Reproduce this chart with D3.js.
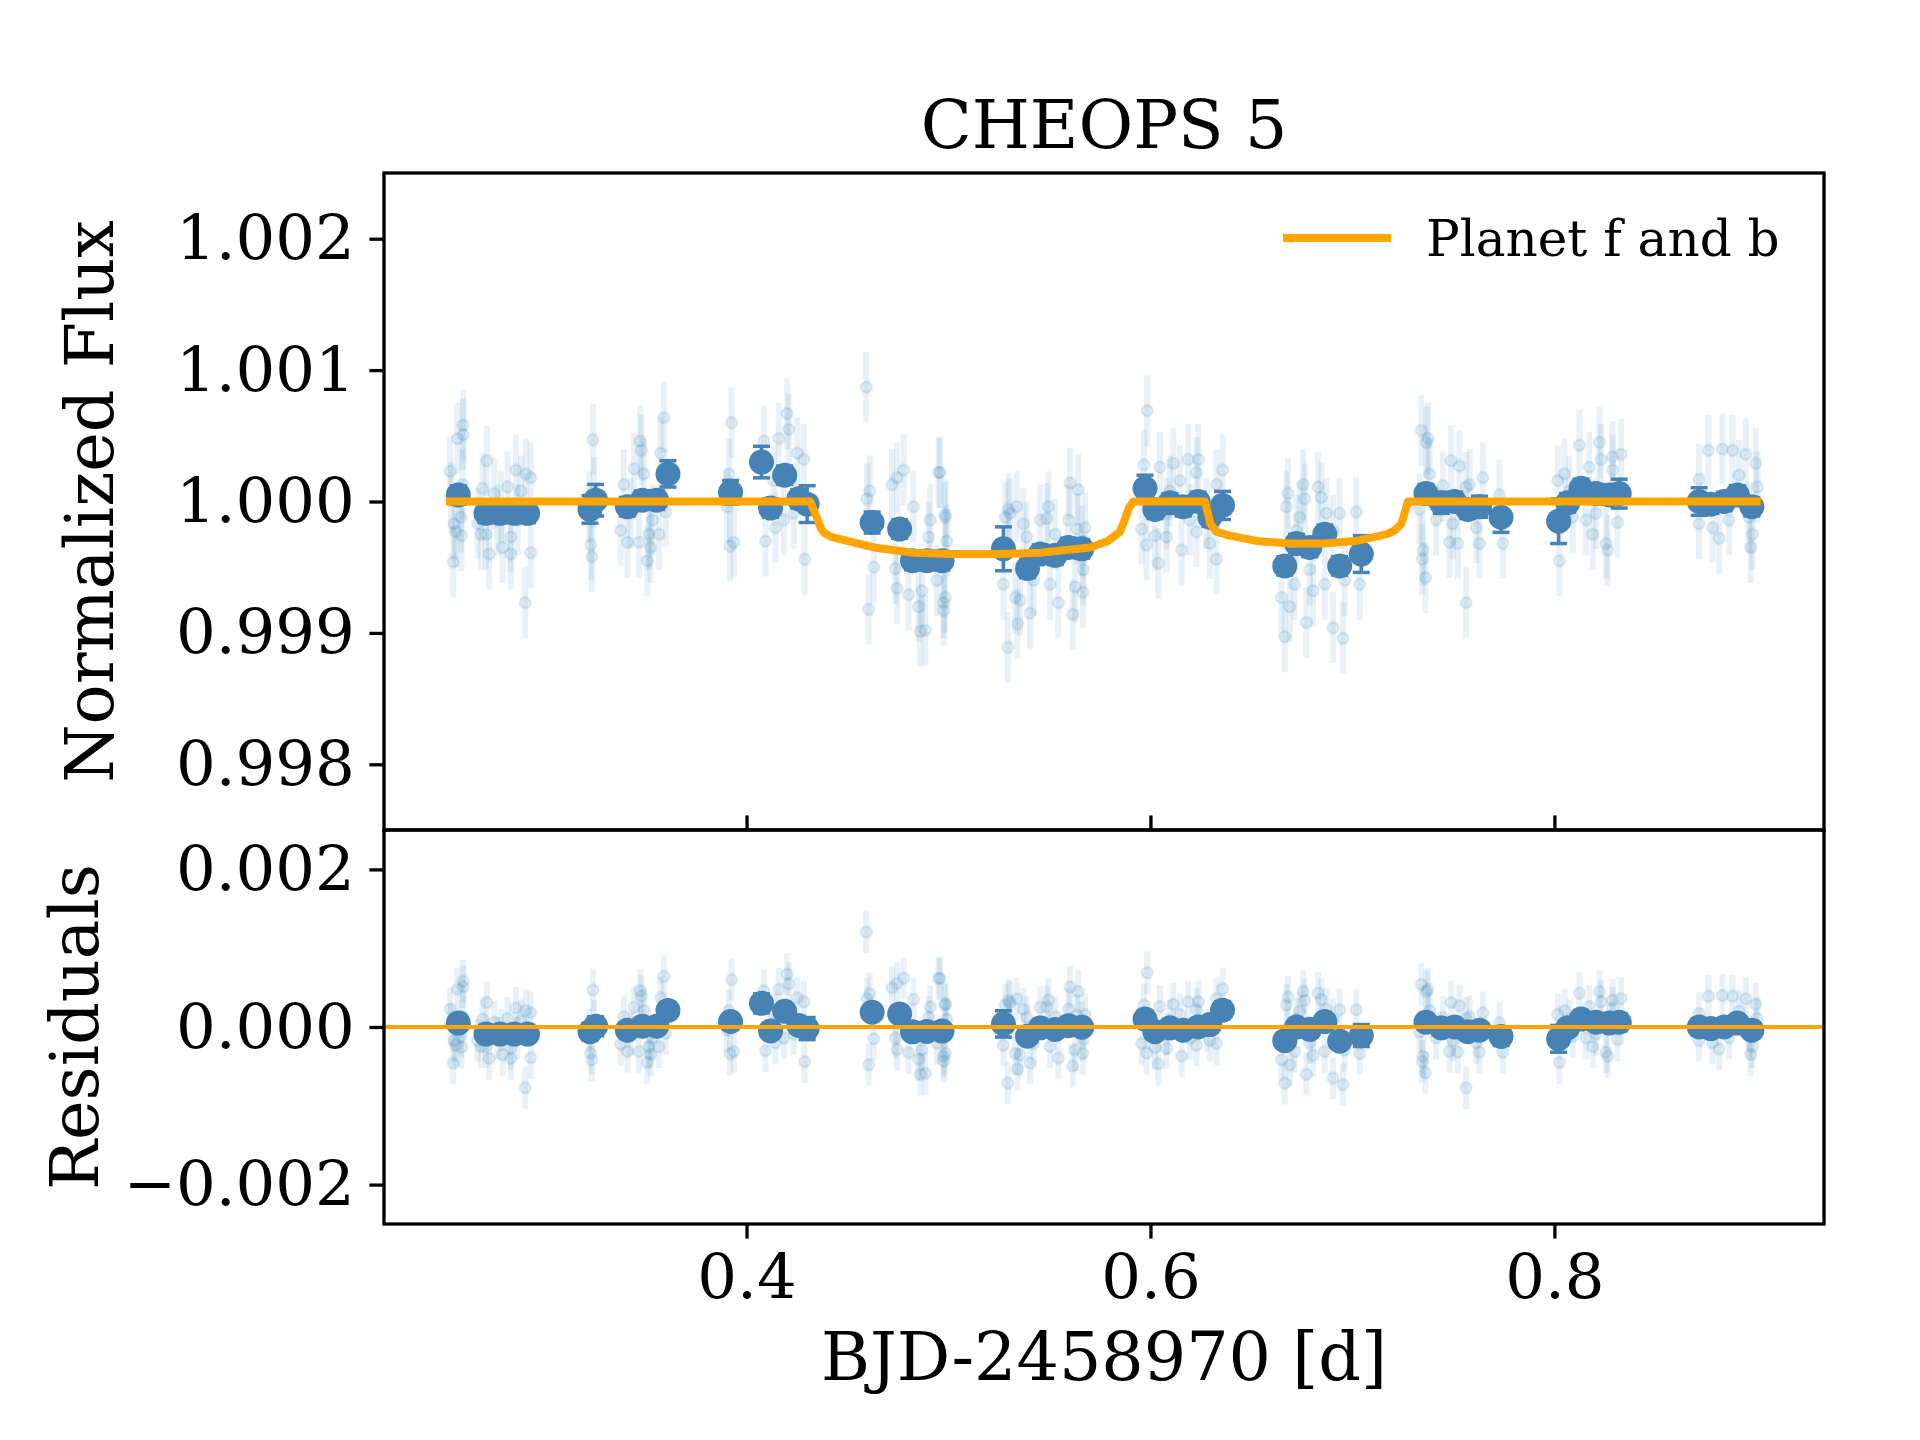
<!DOCTYPE html>
<html>
<head>
<meta charset="utf-8">
<script src="https://cdn.jsdelivr.net/npm/d3@7"></script>
<style>
  body { margin: 0; background: #fff; }
  text { font-family: "DejaVu Serif", serif; fill: #000; }
</style>
</head>
<body>
<div id="chart"></div>
<script>
// Binned points (large markers)
const binTime = [0.2573, 0.2710, 0.2780, 0.2850, 0.2916, 0.3225, 0.3253, 0.3410, 0.3484, 0.3555,
  0.3611, 0.3921, 0.4074, 0.4119, 0.4189, 0.4259, 0.4300, 0.4622, 0.4758, 0.4822,
  0.4893, 0.4968, 0.5272, 0.5391, 0.5454, 0.5528, 0.5594, 0.5660, 0.5973, 0.6022,
  0.6096, 0.6162, 0.6236, 0.6294, 0.6357, 0.6665, 0.6723, 0.6789, 0.6863, 0.6937,
  0.7044, 0.7364, 0.7440, 0.7506, 0.7571, 0.7629, 0.7736, 0.8021, 0.8066, 0.8132,
  0.8206, 0.8272, 0.8321, 0.8717, 0.8775, 0.8841, 0.8906, 0.8978];
const binFlux = [1.00005, 0.99991, 0.99991, 0.99991, 0.99991, 0.99994, 1.00001, 0.99996, 1.00001, 1.00001,
  1.00021, 1.00007, 1.00030, 0.99995, 1.00020, 1.00002, 0.99998, 0.99984, 0.99979, 0.99955,
  0.99955, 0.99955, 0.99964, 0.99949, 0.99960, 0.99959, 0.99965, 0.99964, 1.00010, 0.99994,
  0.99999, 0.99996, 1.00000, 0.99988, 0.99997, 0.99951, 0.99968, 0.99965, 0.99975, 0.99951,
  0.99960, 1.00006, 0.99999, 1.00000, 0.99994, 0.99996, 0.99988, 0.99985, 0.99999, 1.00010,
  1.00006, 1.00005, 1.00006, 1.00000, 0.99998, 1.00000, 1.00005, 0.99996];
const binErr = [0.00007, 0.00007, 0.00007, 0.00007, 0.00007, 0.000105, 0.00012, 0.00007, 0.00007, 0.00007,
  0.00010, 0.00009, 0.00012, 0.00007, 0.00007, 0.00007, 0.00014, 0.00008, 0.00007, 0.00007,
  0.00007, 0.00007, 0.000167, 0.00007, 0.00007, 0.00007, 0.00007, 0.00007, 0.00010, 0.00007,
  0.00007, 0.00007, 0.00007, 0.00007, 0.000107, 0.00007, 0.00007, 0.00007, 0.00007, 0.00007,
  0.00014, 0.00007, 0.00008, 0.00007, 0.00007, 0.00008, 0.000115, 0.00017, 0.00007, 0.00007,
  0.00007, 0.00007, 0.00011, 0.000105, 0.00007, 0.00007, 0.00007, 0.00007];

// Unbinned points (faint markers)
const rawTime = [
  0.2533, 0.2569, 0.2597, 0.2597, 0.2553, 0.2561, 0.2589, 0.2548, 0.2586, 0.2594, 0.2536,
  0.2714, 0.2693, 0.2668, 0.2710, 0.2726, 0.2792, 0.2833, 0.2833, 0.2858, 0.2907, 0.2932, 0.2932, 0.2904,
  0.2751, 0.2784, 0.2817, 0.2883, 0.2685, 0.2767, 0.2866,
  0.3240, 0.3229, 0.3234, 0.3245, 0.3220,
  0.3473, 0.3479, 0.3443, 0.3393, 0.3377, 0.3410, 0.3468, 0.3509, 0.3525, 0.3517, 0.3567, 0.3591,
  0.3575, 0.3600, 0.3492, 0.3426, 0.3534,
  0.3926, 0.3913, 0.3918, 0.3937, 0.3904,
  0.4086, 0.4160, 0.4201, 0.4209, 0.4251, 0.4284, 0.4094, 0.4143, 0.4288, 0.4185, 0.4135, 0.4234,
  0.4593, 0.4597, 0.4610, 0.4605, 0.4630, 0.4720, 0.4745, 0.4778, 0.4737, 0.4745, 0.4803, 0.4827,
  0.4852, 0.4860, 0.4885, 0.4902, 0.4943, 0.4951, 0.4984, 0.4976, 0.4869, 0.4910,
  0.4959, 0.4984, 0.4992, 0.4984, 0.4976,
  0.5297, 0.5305, 0.5281, 0.5338, 0.5272, 0.5330, 0.5355, 0.5342, 0.5294, 0.5404, 0.5388, 0.5454,
  0.5495, 0.5487, 0.5528, 0.5544, 0.5602, 0.5643, 0.5594, 0.5635, 0.5676, 0.5660, 0.5668, 0.5627,
  0.5665, 0.5615, 0.5503, 0.5421, 0.5371,
  0.5984, 0.5968, 0.6047, 0.6113, 0.6187, 0.6237, 0.6228, 0.6357, 0.5956, 0.5981, 0.6039, 0.6022,
  0.6080, 0.6154, 0.6228, 0.6294, 0.6327, 0.6146, 0.6096, 0.6195, 0.6278, 0.6327, 0.6080,
  0.6681, 0.6673, 0.6756, 0.6764, 0.6830, 0.6846, 0.6739, 0.6871, 0.6937, 0.7019, 0.6649, 0.6690,
  0.6714, 0.6789, 0.6805, 0.6863, 0.6665, 0.6772, 0.6904, 0.6953, 0.7036, 0.6962, 0.6723, 0.6904,
  0.7341, 0.7366, 0.7374, 0.7382, 0.7448, 0.7489, 0.7530, 0.7580, 0.7646, 0.7332, 0.7349, 0.7346,
  0.7362, 0.7563, 0.7481, 0.7522, 0.7629, 0.7745, 0.7728, 0.7415, 0.7497, 0.7613, 0.7563,
  0.8025, 0.8017, 0.8050, 0.8124, 0.8223, 0.8330, 0.8288, 0.8231, 0.8173, 0.8255, 0.8264, 0.8190,
  0.8091, 0.8313, 0.8157, 0.8206, 0.8288, 0.8074,
  0.8717, 0.8763, 0.8832, 0.8882, 0.8948, 0.8997, 0.9005, 0.8816, 0.8972, 0.8981, 0.8717, 0.8865,
  0.8915, 0.8783, 0.8964];
const rawFlux = [
  1.00023, 1.00048, 1.00051, 1.00058, 0.99983, 0.99977, 0.99974, 0.99954, 0.99988, 1.00013, 1.00003,
  1.00031, 1.00010, 0.99983, 0.99975, 0.99960, 0.99965, 0.99973, 0.99960, 1.00024, 1.00021, 1.00018, 0.99961, 0.99923,
  1.00006, 0.99996, 1.00011, 1.00008, 0.99975, 0.99986, 0.99986,
  1.00047, 0.99967, 0.99958, 1.00007, 0.99996,
  1.00046, 1.00039, 1.00025, 1.00013, 0.99978, 0.99969, 0.99969, 0.99955, 0.99965, 0.99975, 0.99975, 1.00064,
  1.00037, 0.99992, 1.00021, 0.99991, 0.99986,
  1.00060, 1.00021, 0.99966, 0.99969, 0.99996,
  1.00046, 1.00048, 1.00067, 1.00055, 1.00037, 1.00032, 0.99970, 0.99980, 0.99956, 0.99986, 1.00016, 0.99991,
  1.00087, 1.00002, 1.00008, 0.99918, 0.99950, 1.00013, 1.00018, 1.00024, 0.99949, 0.99934, 0.99929, 0.99996,
  0.99920, 0.99901, 0.99902, 0.99973, 0.99940, 1.00022, 0.99990, 0.99923, 0.99932, 0.99986,
  1.00022, 0.99988, 0.99970, 0.99927, 0.99917,
  0.99994, 0.99991, 0.99988, 0.99996, 0.99937, 0.99927, 0.99925, 0.99907, 0.99889, 0.99915, 0.99973, 0.99986,
  0.99996, 0.99987, 0.99975, 0.99923, 1.00014, 1.00009, 0.99986, 0.99979, 0.99980, 0.99970, 0.99948, 0.99935,
  0.99931, 0.99914, 0.99937, 0.99940, 0.99983,
  1.00069, 1.00028, 1.00026, 1.00029, 1.00032, 1.00032, 1.00022, 1.00024, 0.99979, 0.99967, 0.99953, 0.99974,
  0.99973, 0.99963, 0.99977, 0.99968, 0.99956, 1.00016, 1.00008, 0.99986, 0.99991, 1.00013, 0.99991,
  1.00006, 0.99996, 1.00013, 1.00002, 1.00011, 1.00003, 0.99988, 0.99991, 0.99991, 0.99992, 0.99927, 0.99920,
  0.99937, 0.99948, 0.99932, 0.99937, 0.99897, 0.99908, 0.99904, 0.99896, 0.99937, 0.99940, 0.99978, 0.99978,
  1.00054, 1.00045, 1.00048, 1.00021, 1.00012, 1.00031, 1.00027, 1.00013, 1.00018, 0.99994, 0.99963, 0.99956,
  0.99942, 0.99923, 0.99969, 0.99968, 0.99968, 0.99968, 1.00005, 0.99986, 0.99983, 0.99980, 1.00011,
  0.99955, 1.00016, 1.00021, 1.00043, 1.00045, 1.00036, 1.00034, 1.00032, 1.00026, 0.99968, 0.99963, 0.99975,
  0.99988, 0.99984, 0.99986, 0.99991, 1.00024, 1.00008,
  1.00017, 1.00039, 1.00040, 1.00039, 1.00036, 1.00029, 1.00011, 0.99972, 0.99965, 0.99975, 0.99983, 0.99986,
  1.00020, 0.99980, 0.99988];
const rawErr = 0.00027;

// Transit model "Planet f and b"
const modelTime = [0.2512, 0.4316, 0.4345, 0.4370, 0.4385, 0.4420, 0.4498, 0.4630, 0.4827, 0.5009,
  0.5250, 0.5454, 0.5701, 0.5790, 0.5849, 0.5870, 0.5893, 0.5915, 0.6269, 0.6283,
  0.6297, 0.6327, 0.6393, 0.6525, 0.6690, 0.6854, 0.7019, 0.7168, 0.7210, 0.7242,
  0.7262, 0.7275, 0.9022];
const modelFlux = [1.00000, 1.00000, 0.99989, 0.99979, 0.99976, 0.99973, 0.99970, 0.99965, 0.99961, 0.99960,
  0.99960, 0.99961, 0.99965, 0.99970, 0.99977, 0.99985, 0.99995, 1.00000, 1.00000, 0.99992,
  0.99983, 0.99977, 0.99974, 0.99970, 0.99968, 0.99968, 0.99970, 0.99975, 0.99978, 0.99983,
  0.99993, 1.00000, 1.00000];

const xTicks = [0.4, 0.6, 0.8];
const fluxTicks = [0.998, 0.999, 1.000, 1.001, 1.002];
const residTicks = [-0.002, 0.000, 0.002];

const W = 1920, H = 1440;
const plotL = 384, plotR = 1824, plotT = 173, plotM = 830, plotB = 1224;
const tickLen = 14.6, tickW = 3.3, tickFont = 62.5, labelFont = 66.7;
const faint = "#1f77b4", binColor = "#4682b4", orange = "#ffa500";

const svg = d3.select("#chart").append("svg")
  .attr("width", W)
  .attr("height", H);

const x = d3.scaleLinear().domain([0.2205, 0.9335]).range([plotL, plotR]);
const yTop = d3.scaleLinear().domain([0.9975, 1.0025]).range([plotM, plotT]);
const yBot = d3.scaleLinear().domain([-0.0025, 0.0025]).range([plotB, plotM]);
// model evaluated at any time, piecewise through the model samples
const modelAt = d3.scaleLinear().domain(modelTime).range(modelFlux);

const raw = rawTime.map((t, i) => ({ t, f: rawFlux[i], r: rawFlux[i] - modelAt(t) }));
const bins = binTime.map((t, i) => ({ t, f: binFlux[i], e: binErr[i], r: binFlux[i] - modelAt(t) }));

svg.append("defs").selectAll("clipPath")
  .data([["clipTop", plotT, plotM], ["clipBot", plotM, plotB]])
  .enter().append("clipPath")
  .attr("id", d => d[0])
  .append("rect")
  .attr("x", plotL).attr("y", d => d[1])
  .attr("width", plotR - plotL).attr("height", d => d[2] - d[1]);

function drawPoints(g, y, key) {
  g.selectAll(".rawbar")
    .data(raw)
    .enter().append("line")
    .attr("x1", d => x(d.t)).attr("x2", d => x(d.t))
    .attr("y1", d => y(d[key] - rawErr)).attr("y2", d => y(d[key] + rawErr))
    .attr("stroke", faint).attr("stroke-opacity", 0.1).attr("stroke-width", 6);

  g.selectAll(".rawpt")
    .data(raw)
    .enter().append("circle")
    .attr("cx", d => x(d.t)).attr("cy", d => y(d[key]))
    .attr("r", 5.5)
    .attr("fill", faint).attr("fill-opacity", 0.1)
    .attr("stroke", faint).attr("stroke-opacity", 0.12).attr("stroke-width", 2.5);

  const eb = g.selectAll(".binbar").data(bins).enter().append("g")
    .attr("stroke", binColor).attr("stroke-width", 3.5);
  eb.append("line")
    .attr("x1", d => x(d.t)).attr("x2", d => x(d.t))
    .attr("y1", d => y(d[key] - d.e)).attr("y2", d => y(d[key] + d.e));
  eb.append("line")
    .attr("x1", d => x(d.t) - 8.5).attr("x2", d => x(d.t) + 8.5)
    .attr("y1", d => y(d[key] - d.e)).attr("y2", d => y(d[key] - d.e));
  eb.append("line")
    .attr("x1", d => x(d.t) - 8.5).attr("x2", d => x(d.t) + 8.5)
    .attr("y1", d => y(d[key] + d.e)).attr("y2", d => y(d[key] + d.e));

  g.selectAll(".binpt")
    .data(bins)
    .enter().append("circle")
    .attr("cx", d => x(d.t)).attr("cy", d => y(d[key]))
    .attr("r", 12.5)
    .attr("fill", binColor);
}

// Top panel
const gTop = svg.append("g").attr("clip-path", "url(#clipTop)");
drawPoints(gTop, yTop, "f");

const modelLine = d3.line()
  .x((d, i) => x(modelTime[i]))
  .y(d => yTop(d));

gTop.append("path")
  .datum(modelFlux)
  .attr("fill", "none")
  .attr("stroke", orange)
  .attr("stroke-width", 8)
  .attr("stroke-linejoin", "round")
  .attr("d", modelLine);

// Bottom panel
const gBot = svg.append("g").attr("clip-path", "url(#clipBot)");
drawPoints(gBot, yBot, "r");

gBot.append("line")
  .attr("x1", plotL).attr("x2", plotR)
  .attr("y1", yBot(0)).attr("y2", yBot(0))
  .attr("stroke", orange)
  .attr("stroke-width", 4);

// Axes
function styleAxis(g, fontSize) {
  g.select(".domain").remove();
  g.selectAll(".tick line").attr("stroke", "#000").attr("stroke-width", tickW);
  g.selectAll(".tick text")
    .attr("fill", "#000")
    .style("font-family", "'DejaVu Serif', serif")
    .style("font-size", fontSize + "px");
}

svg.append("g")
  .attr("transform", `translate(${plotL},0)`)
  .call(d3.axisLeft(yTop).tickValues(fluxTicks).tickFormat(d3.format(".3f"))
    .tickSize(tickLen).tickPadding(tickLen))
  .call(g => styleAxis(g, tickFont));

svg.append("g")
  .attr("transform", `translate(${plotL},0)`)
  .call(d3.axisLeft(yBot).tickValues(residTicks).tickFormat(d3.format(".3f"))
    .tickSize(tickLen).tickPadding(tickLen))
  .call(g => styleAxis(g, tickFont));

// top panel x ticks, unlabeled, pointing up from the shared edge
svg.append("g")
  .attr("transform", `translate(0,${plotM})`)
  .call(d3.axisBottom(x).tickValues(xTicks).tickFormat("").tickSize(-tickLen))
  .call(g => styleAxis(g, tickFont));

svg.append("g")
  .attr("transform", `translate(0,${plotB})`)
  .call(d3.axisBottom(x).tickValues(xTicks).tickFormat(d3.format(".1f"))
    .tickSize(tickLen).tickPadding(tickLen))
  .call(g => styleAxis(g, tickFont));

// Spines
[[plotT, plotM], [plotM, plotB]].forEach(([y0, y1]) => {
  svg.append("rect")
    .attr("x", plotL).attr("y", y0)
    .attr("width", plotR - plotL).attr("height", y1 - y0)
    .attr("fill", "none")
    .attr("stroke", "#000")
    .attr("stroke-width", tickW);
});

// Texts
svg.append("text")
  .attr("x", (plotL + plotR) / 2).attr("y", 148)
  .attr("text-anchor", "middle")
  .style("font-size", labelFont + "px")
  .text("CHEOPS 5");

svg.append("text")
  .attr("x", (plotL + plotR) / 2).attr("y", 1380)
  .attr("text-anchor", "middle")
  .style("font-size", labelFont + "px")
  .text("BJD-2458970 [d]");

svg.append("text")
  .attr("transform", `translate(113,${(plotT + plotM) / 2}) rotate(-90)`)
  .attr("text-anchor", "middle")
  .style("font-size", labelFont + "px")
  .text("Normalized Flux");

svg.append("text")
  .attr("transform", `translate(98,${(plotM + plotB) / 2}) rotate(-90)`)
  .attr("text-anchor", "middle")
  .style("font-size", labelFont + "px")
  .text("Residuals");

// Legend
svg.append("line")
  .attr("x1", 1283).attr("x2", 1391)
  .attr("y1", 238).attr("y2", 238)
  .attr("stroke", orange)
  .attr("stroke-width", 8);

svg.append("text")
  .attr("x", 1426).attr("y", 256)
  .style("font-size", "50px")
  .text("Planet f and b");
</script>
</body>
</html>
